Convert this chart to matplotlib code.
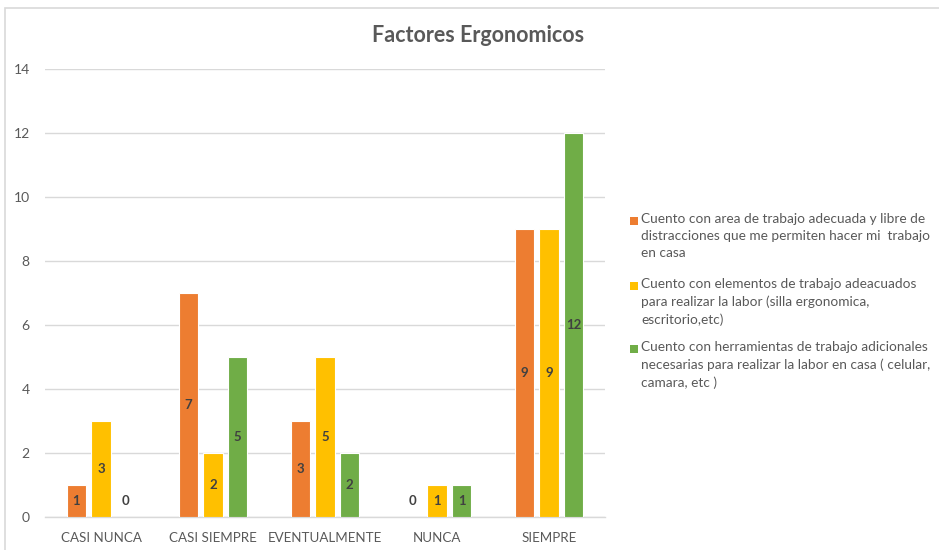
import numpy as np
import matplotlib.pyplot as plt
from matplotlib.patches import Rectangle

plt.rcParams['font.family'] = ['Lato', 'DejaVu Sans']

categorias = ['CASI NUNCA', 'CASI SIEMPRE', 'EVENTUALMENTE', 'NUNCA', 'SIEMPRE']
area_trabajo = [1, 7, 3, 0, 9]
elementos = [3, 2, 5, 1, 9]
herramientas = [0, 5, 2, 1, 12]
series = [area_trabajo, elementos, herramientas]
leyendas = [
    'Cuento con area de trabajo adecuada y libre de\ndistracciones que me permiten hacer mi  trabajo\nen casa',
    'Cuento con elementos de trabajo adeacuados\npara realizar la labor (silla ergonomica,\nescritorio,etc)',
    'Cuento con herramientas de trabajo adicionales\nnecesarias para realizar la labor en casa ( celular,\ncamara, etc )',
]
colores = ['#ED7D31', '#FFC000', '#70AD47']

fig = plt.figure(figsize=(9.39, 5.5), dpi=100)
ax = fig.add_axes([45 / 939, 1 - 517 / 550, 560 / 939, 448 / 550])

x = np.arange(len(categorias))
paso = 0.22
ancho = 0.175
for i, (vals, col) in enumerate(zip(series, colores)):
    pos = x + (i - 1) * paso
    ax.bar(pos, vals, width=ancho, color=col, edgecolor='white', linewidth=0.8, zorder=3)
    for px, v in zip(pos, vals):
        ax.text(px, v / 2 if v > 0 else 0.5, str(v), ha='center', va='center',
                fontsize=9.5, fontweight='bold', color='#404040', zorder=4)

ax.set_xlim(-0.5, len(categorias) - 0.5)
ax.set_ylim(0, 14)
ax.set_yticks(range(0, 15, 2))
ax.set_xticks(x)
ax.set_xticklabels(categorias)
ax.grid(axis='y', color='#d9d9d9', linewidth=1, zorder=0)
for s in ['top', 'right', 'left']:
    ax.spines[s].set_visible(False)
ax.spines['bottom'].set_color('#d9d9d9')
ax.spines['bottom'].set_linewidth(1)
ax.tick_params(axis='both', length=0, labelcolor='#595959')
ax.tick_params(axis='y', pad=11, labelsize=10)
ax.tick_params(axis='x', pad=11, labelsize=9.6)

fig.text(478 / 939, 1 - 35 / 550, 'Factores Ergonomicos', ha='center', va='center',
         fontsize=15.5, fontweight='bold', color='#595959')

# leyenda manual
tops = [213, 278, 341]
for lab, col, top in zip(leyendas, colores, tops):
    fig.patches.append(Rectangle((630 / 939, 1 - (top + 12) / 550), 8 / 939, 8 / 550,
                                 transform=fig.transFigure, facecolor=col, edgecolor='none'))
    fig.text(641 / 939, 1 - top / 550, lab, ha='left', va='top', fontsize=9.85,
             color='#595959', linespacing=1.52)

# borde del area del grafico
fig.patches.append(Rectangle((5 / 939, -0.1), 1.2, 1.1 - 8 / 550, transform=fig.transFigure,
                             facecolor='none', edgecolor='#d9d9d9', linewidth=1.2))

fig.savefig('out.png', dpi=100)
